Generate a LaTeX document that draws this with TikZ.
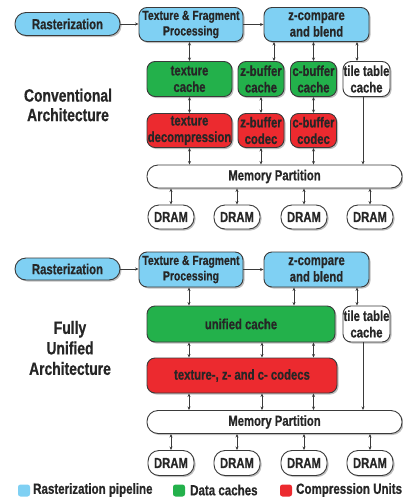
\documentclass[tikz,border=0pt]{standalone}
\usepackage{fontspec}
\setmainfont{Liberation Sans}[FakeStretch=0.78, BoldFeatures={FakeBold=0.6}]
\usetikzlibrary{shadows,arrows.meta}
\definecolor{pipec}{HTML}{7FD0F3}
\definecolor{cachc}{HTML}{23B14B}
\definecolor{compc}{HTML}{EC2A2F}
\definecolor{edgec}{HTML}{3A3A3A}
\definecolor{txtc}{HTML}{262626}
\tikzset{
  box/.style={draw=edgec, line width=0.9pt, rounded corners=8pt, inner sep=0pt, align=center, text=txtc,
    font=\fontsize{14.5}{16.5}\selectfont\bfseries,
    drop shadow={shadow xshift=1.5pt, shadow yshift=-1.5pt, fill=black!50, opacity=0.5}},
  pipebox/.style={box, fill=pipec},
  cachebox/.style={box, fill=cachc},
  compbox/.style={box, fill=compc},
  plainbox/.style={box, fill=white},
  pill/.style={rounded corners=11pt},
  tfpfont/.style={font=\fontsize{13.3}{15.5}\selectfont\bfseries},
  archlabel/.style={align=center, text=txtc, font=\fontsize{17.8}{19.5}\selectfont\bfseries},
  legsq/.style={minimum size=12pt, inner sep=0pt, rounded corners=2.5pt},
  legtxt/.style={anchor=west, inner sep=0pt, text=txtc, font=\fontsize{14.8}{15}\selectfont\bfseries},
  tip/.tip={Stealth[length=3.5pt,width=3pt]},
  arr/.style={draw=edgec, line width=0.6pt, -tip},
  dbl/.style={draw=edgec, line width=0.6pt, tip-tip},
}
\begin{document}
\begin{tikzpicture}[x=1pt,y=-1pt]
\useasboundingbox (0,0) rectangle (403,499);
% ---------- Conventional ----------
\node[pipebox, pill, minimum width=105pt, minimum height=23pt] (ras1) at (67.5,24) {Rasterization};
\node[pipebox, tfpfont, minimum width=104pt, minimum height=34pt] (tfp1) at (191,24.5) {Texture \& Fragment\\Processing};
\node[pipebox, minimum width=105pt, minimum height=34pt] (zc1) at (316.5,24.5) {z-compare\\and blend};
\node[cachebox, minimum width=85pt, minimum height=35pt] (tc1) at (189.5,79) {texture\\cache};
\node[cachebox, minimum width=46pt, minimum height=35pt] (zb1) at (261,79) {z-buffer\\cache};
\node[cachebox, minimum width=46pt, minimum height=35pt] (cb1) at (313.5,79) {c-buffer\\cache};
\node[plainbox, minimum width=47pt, minimum height=35pt] (tt1) at (366.5,79) {tile table\\cache};
\node[compbox, minimum width=85pt, minimum height=34pt] (td1) at (189.5,130.5) {texture\\decompression};
\node[compbox, minimum width=46pt, minimum height=34pt] (zd1) at (261,130.5) {z-buffer\\codec};
\node[compbox, minimum width=46pt, minimum height=34pt] (cd1) at (313.5,130.5) {c-buffer\\codec};
\node[plainbox, pill, minimum width=255pt, minimum height=23pt] (mp1) at (274.5,176.5) {Memory Partition};
\node[plainbox, pill, minimum width=46pt, minimum height=24pt] (d11) at (171,217) {DRAM};
\node[plainbox, pill, minimum width=46pt, minimum height=24pt] (d12) at (237,217) {DRAM};
\node[plainbox, pill, minimum width=46pt, minimum height=24pt] (d13) at (304,217) {DRAM};
\node[plainbox, pill, minimum width=46pt, minimum height=24pt] (d14) at (370,217) {DRAM};
\node[archlabel] (lab1) at (68,105) {Conventional\\Architecture};
\draw[arr] (ras1.east) -- (tfp1.west |- ras1.east);
\draw[arr] (tfp1.east) -- (zc1.west);
\draw[dbl] (tc1.north |- tfp1.south) -- (tc1.north);
\draw[dbl] ([xshift=13pt]zb1.north |- zc1.south) -- ([xshift=13pt]zb1.north);
\draw[dbl] (cb1.north |- zc1.south) -- (cb1.north);
\draw[dbl] ([xshift=-9.5pt]tt1.north |- zc1.south) -- ([xshift=-9.5pt]tt1.north);
\draw[dbl] (tc1.south) -- (td1.north);
\draw[dbl] (zb1.south) -- (zd1.north);
\draw[dbl] (cb1.south) -- (cd1.north);
\draw[dbl] (td1.south) -- (td1.south |- mp1.north);
\draw[dbl] (zd1.south) -- (zd1.south |- mp1.north);
\draw[dbl] (cd1.south) -- (cd1.south |- mp1.north);
\draw[arr] ([xshift=-3.5pt]tt1.south) -- ([xshift=-3.5pt]tt1.south |- mp1.north);
\draw[dbl] (d11.north |- mp1.south) -- (d11.north);
\draw[dbl] (d12.north |- mp1.south) -- (d12.north);
\draw[dbl] (d13.north |- mp1.south) -- (d13.north);
\draw[dbl] (d14.north |- mp1.south) -- (d14.north);
% ---------- Fully unified ----------
\node[pipebox, pill, minimum width=105pt, minimum height=22pt] (ras2) at (67.5,269) {Rasterization};
\node[pipebox, tfpfont, minimum width=104pt, minimum height=35pt] (tfp2) at (191,269.5) {Texture \& Fragment\\Processing};
\node[pipebox, minimum width=105pt, minimum height=35pt] (zc2) at (316.5,269.5) {z-compare\\and blend};
\node[cachebox, minimum width=188pt, minimum height=36pt] (uc) at (241,324) {unified cache};
\node[plainbox, minimum width=47pt, minimum height=36pt] (tt2) at (366.5,324) {tile table\\cache};
\node[compbox, minimum width=190pt, minimum height=35pt] (cod) at (242,375.5) {texture-, z- and c- codecs};
\node[plainbox, pill, minimum width=255pt, minimum height=23pt] (mp2) at (274.5,422) {Memory Partition};
\node[plainbox, pill, minimum width=46pt, minimum height=25pt] (d21) at (171,463) {DRAM};
\node[plainbox, pill, minimum width=46pt, minimum height=25pt] (d22) at (237,463) {DRAM};
\node[plainbox, pill, minimum width=46pt, minimum height=25pt] (d23) at (304,463) {DRAM};
\node[plainbox, pill, minimum width=46pt, minimum height=25pt] (d24) at (370,463) {DRAM};
\node[archlabel, font=\fontsize{17.8}{20.5}\selectfont\bfseries] (lab2) at (70,348) {Fully\\Unified\\Architecture};
\draw[arr] (ras2.east) -- (tfp2.west |- ras2.east);
\draw[arr] (tfp2.east) -- (zc2.west);
\coordinate (x189) at (189,0);
\coordinate (x262) at (262,0);
\coordinate (x294) at (294,0);
\coordinate (x313) at (313.5,0);
\draw[dbl] (tfp2.south -| x189) -- (uc.north -| x189);
\draw[dbl] (zc2.south -| x294) -- (uc.north -| x294);
\draw[dbl] ([xshift=-9.5pt]tt2.north |- zc2.south) -- ([xshift=-9.5pt]tt2.north);
\draw[dbl] (uc.south -| x189) -- (cod.north -| x189);
\draw[dbl] (uc.south -| x262) -- (cod.north -| x262);
\draw[dbl] (uc.south -| x313) -- (cod.north -| x313);
\draw[dbl] (cod.south -| x189) -- (mp2.north -| x189);
\draw[dbl] (cod.south -| x262) -- (mp2.north -| x262);
\draw[dbl] (cod.south -| x313) -- (mp2.north -| x313);
\draw[arr] ([xshift=-3.5pt]tt2.south) -- ([xshift=-3.5pt]tt2.south |- mp2.north);
\draw[dbl] (d21.north |- mp2.south) -- (d21.north);
\draw[dbl] (d22.north |- mp2.south) -- (d22.north);
\draw[dbl] (d23.north |- mp2.south) -- (d23.north);
\draw[dbl] (d24.north |- mp2.south) -- (d24.north);
% ---------- Legend ----------
\node[legsq, fill=pipec] (sq1) at (24,490.5) {};
\node[legtxt] (lt1) at (33,490) {Rasterization pipeline};
\node[legsq, fill=cachc] (sq2) at (179,490.5) {};
\node[legtxt] (lt2) at (190,490) {Data caches};
\node[legsq, fill=compc] (sq3) at (286,490.5) {};
\node[legtxt] (lt3) at (296,490) {Compression Units};
\end{tikzpicture}
\end{document}
